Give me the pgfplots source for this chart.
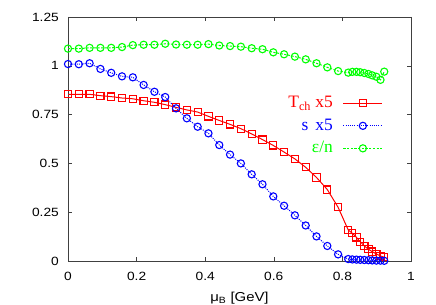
\documentclass[border=0pt]{standalone}
\usepackage{fontspec}
\setmainfont{Liberation Serif}
\setsansfont{Liberation Sans}
\newfontfamily\tickfont[FakeStretch=1.15]{Liberation Sans}
\usepackage{pgfplots}
\pgfplotsset{compat=1.18}
\usepackage{pgfplotstable}

\pgfplotstableread{
mu      T      s      e
0       0.854  1.009  1.088
0.0315  0.854  1.008  1.088
0.063   0.854  1.013  1.092
0.0945  0.847  0.984  1.092
0.126   0.842  0.964  1.092
0.1575  0.835  0.946  1.096
0.189   0.831  0.941  1.106
0.2205  0.821  0.902  1.108
0.252   0.813  0.867  1.108
0.2835  0.801  0.840  1.113
0.315   0.787  0.782  1.109
0.3465  0.774  0.731  1.108
0.378   0.763  0.688  1.108
0.4095  0.741  0.654  1.111
0.441   0.720  0.594  1.104
0.4725  0.700  0.545  1.101
0.504   0.678  0.500  1.098
0.5355  0.651  0.444  1.090
0.567   0.622  0.393  1.085
0.5985  0.592  0.331  1.069
0.630   0.558  0.283  1.059
0.6615  0.523  0.234  1.047
0.693   0.480  0.182  1.033
0.7245  0.428  0.126  1.013
0.756   0.366  0.077  0.992
0.7875  0.275  0.034  0.973
0.817   0.159  0.010  0.965
0.829   0.142  0.008  0.969
0.841   0.121  0.007  0.969
0.852   0.099  0.006  0.967
0.864   0.077  0.005  0.963
0.876   0.060  0.004  0.958
0.887   0.048  0.003  0.951
0.899   0.036  0.002  0.944
0.911   0.026  0.002  0.928
0.922   0.019  0.001  0.970
}\data

\begin{document}
\begin{tikzpicture}
\begin{axis}[
  scale only axis, width=343bp, height=244bp,
  xmin=0, xmax=1, ymin=0, ymax=1.25,
  xtick={0,0.2,0.4,0.6,0.8,1},
  ytick={0,0.25,0.5,0.75,1,1.25},
  tick align=inside, major tick length=4bp,
  axis line style={line width=0.5pt, black!75},
  every tick/.style={line width=0.5pt, black!75},
  /pgf/number format/assume math mode=true,
  tick label style={font=\tickfont\fontsize{12}{14}\selectfont, inner sep=0pt},
  xticklabel style={anchor=base, yshift=-19.7bp},
  yticklabel style={anchor=east, xshift=-9bp},
  xlabel={μ\textsubscript{B} [GeV]},
  every axis x label/.style={at={(axis description cs:0.5,0)}, anchor=base, yshift=-40.7bp, font=\tickfont\fontsize{13}{15}\selectfont, inner sep=0pt},
  legend plot pos=right,
  legend cell align=right,
  legend image code/.code={\draw[mark repeat=2,mark phase=2] plot coordinates {(0bp,0bp) (19.5bp,0bp) (39bp,0bp)};},
  legend style={draw=none, fill=none, inner sep=0pt, outer sep=0pt,
    at={(axis cs:0.918,0.855)}, anchor=north east,
    font=\fontsize{17.5}{19}\selectfont,
    nodes={inner sep=1bp, text height=12.5bp, text depth=4bp},
    row sep=4bp},
]
\addplot[red, line width=1pt, mark=square, mark size=3.6bp, mark options={solid, line width=1.1pt}] table[x=mu, y=T] {\data};
\addlegendentry{\textcolor{red}{T\textsubscript{ch} x5}\rule{9bp}{0pt}}
\addplot[blue, line width=1pt, dash pattern=on 1pt off 1.2pt, mark=o, mark size=3.6bp, mark options={solid, line width=1.1pt}] table[x=mu, y=s] {\data};
\addlegendentry{\textcolor{blue}{s\hspace{0.4em}x5}\rule{9bp}{0pt}}
\addplot[green, line width=1pt, dash pattern=on 2.2pt off 1.5pt, mark=o, mark size=3.6bp, mark options={solid, line width=1.1pt}] table[x=mu, y=e] {\data};
\addlegendentry{\textcolor{green}{ε/n}\rule{9bp}{0pt}}
\coordinate (o) at (rel axis cs:0,0);
\coordinate (t) at (rel axis cs:1,1);
\end{axis}
\pgfresetboundingbox
\path ([shift={(-68bp,-44bp)}]o) rectangle ([shift={(25bp,17bp)}]t);
\end{tikzpicture}
\end{document}
